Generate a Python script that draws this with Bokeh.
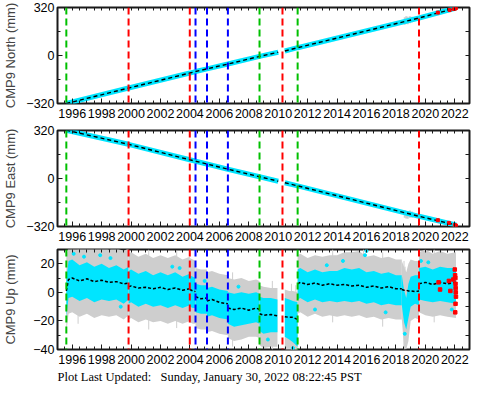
from bokeh.plotting import figure
from bokeh.models import ColumnDataSource, Span, FixedTicker, LinearAxis, Range1d, Title
from bokeh.layouts import column
from bokeh.embed import file_html
from bokeh.resources import INLINE

SANS = "Liberation Sans"
SERIF = "Liberation Serif"
CYAN = "#00e5ff"
GRAY = "#cecece"
NAN = float("nan")
COLORS = {"green": "#00c000", "red": "#ff0000", "blue": "#0000ff"}

# ---------------- data ----------------
event_years = [1995.60, 1999.83, 2003.99, 2004.38, 2005.16, 2006.58, 2008.73, 2010.29, 2011.32, 2019.57]
event_colors = ["green", "red", "red", "blue", "blue", "blue", "green", "red", "green", "red"]

year_labels = [1996, 1998, 2000, 2002, 2004, 2006, 2008, 2010, 2012, 2014, 2016, 2018, 2020, 2022]

north_t = [1995.60, 1999.83, 2003.99, 2004.38, 2005.16, 2006.58, 2008.73, 2010.00, NAN, 2010.45, 2011.32, 2019.57, 2022.08]
north_v = [-320, -217, -117, -107, -89, -57, -6, 22, NAN, 30, 52, 250, 316]
north_err_t = [2018.6, 2018.7, 2018.8, 2018.95, 2019.1]
north_err_lo = [205, 210, 208, 215, 222]
north_err_hi = [255, 262, 258, 262, 258]
north_red_t = [2020.85, 2021.65, 2021.95, 2022.05, 2022.08]
north_red_v = [286, 303, 310, 314, 318]

east_t = [1995.60, 1999.83, 2003.99, 2006.58, 2008.73, 2010.00, NAN, 2010.45, 2011.32, 2019.57, 2022.08]
east_v = [322, 228, 125, 62, 12, -18, NAN, -28, -49, -252, -310]
east_err_t = [2018.6, 2018.7, 2018.8, 2018.95, 2019.1]
east_err_lo = [-262, -266, -268, -262, -262]
east_err_hi = [-212, -216, -218, -214, -220]
east_red_t = [2020.85, 2021.6, 2022.0, 2022.08]
east_red_v = [-278, -296, -310, -314]

up_seg = [0] * 11 + [1] * 10 + [2] * 3 + [3] * 3 + [4] * 4 + [5] * 6 + [6] * 4 + [7] * 4 + [8] * 16 + [9] * 7 + [10] * 6
up_t = [1995.60, 1995.75, 1996.0, 1996.5, 1997.0, 1997.5, 1998.0, 1998.5, 1999.0, 1999.5, 1999.83,
        1999.83, 2000.0, 2000.5, 2001.0, 2001.5, 2002.0, 2002.5, 2003.0, 2003.5, 2003.99,
        2003.99, 2004.2, 2004.38,
        2004.38, 2004.75, 2005.16,
        2005.16, 2005.5, 2006.0, 2006.58,
        2006.58, 2007.0, 2007.5, 2008.0, 2008.5, 2008.73,
        2008.73, 2009.0, 2009.5, 2009.95,
        2010.45, 2010.75, 2011.0, 2011.32,
        2011.32, 2011.5, 2012.0, 2012.5, 2013.0, 2013.5, 2014.0, 2014.5, 2015.0, 2015.5, 2016.0, 2016.5, 2017.0, 2017.5, 2018.0, 2018.4,
        2018.4, 2018.55, 2018.7, 2018.85, 2019.0, 2019.3, 2019.57,
        2019.57, 2020.0, 2020.5, 2021.0, 2021.5, 2022.08]
up_model = [1, 9, 10, 8, 9.5, 7.5, 8.5, 7, 7.5, 6, 6.5,
            4, 4.5, 3, 3.5, 2.5, 3.5, 2, 3, 1.5, 2.5,
            2, 1, 0.5,
            -3, -4.5, -4,
            -6, -5, -7, -8,
            -11, -12, -11, -12.5, -11, -12,
            -15, -16, -15.5, -16.5,
            -17, -17.5, -17.5, -19,
            6, 7, 5.5, 6.5, 5, 6, 5, 5.5, 4.5, 5, 3.5, 4.5, 3, 4, 2.5, 2.5,
            2, 1.5, 1.5, 1, 1, 0.5, 1,
            6, 7, 5.5, 7, 6, 7]
up_cyan_hi = [10, 22, 23, 19, 21, 18, 20, 17, 19, 16, 18,
              15, 16, 13, 15, 12, 14, 12, 14, 11, 13,
              12, 11, 10,
              6, 5, 5,
              3, 4, 2, 1,
              0, -1, 0, -1, 0, -1,
              -3, -4, -4, -5,
              -4, -5, -6, -7,
              16, 17, 14, 16, 14, 15, 15, 17, 16, 17, 14, 15, 13, 14, 12, 12,
              12, 2, -4, 6, 11, 12, 12,
              17, 18, 16, 18, 17, 17]
up_cyan_lo = [-17, -4, -3, -6, -4, -7, -5, -6, -5, -8, -5,
              -8, -7, -10, -8, -10, -9, -11, -9, -11, -9,
              -10, -11, -11,
              -14, -15, -15,
              -17, -16, -18, -19,
              -22, -24, -23, -22, -21, -22,
              -27, -29, -28, -28,
              -31, -33, -35, -38,
              -5, -4, -7, -5, -7, -6, -7, -6, -7, -6, -8, -7, -9, -8, -9, -9,
              -9, -21, -26, -18, -10, -8, -9,
              -5, -6, -7, -6, -7, -8]
up_gray_hi = [25, 33, 34, 31, 33, 30, 32, 30, 31, 29, 31,
              27, 28, 25, 27, 24, 26, 24, 26, 23, 25,
              24, 23, 22,
              17, 16, 16,
              14, 15, 13, 12,
              10, 9, 10, 8, 9, 8,
              5, 4, 3, 3,
              2, 1, 1, 0,
              26, 27, 24, 26, 25, 26, 26, 28, 28, 29, 25, 26, 24, 25, 23, 23,
              22, 18, 14, 20, 23, 22, 22,
              28, 30, 27, 29, 27, 28]
up_gray_lo = [-28, -15, -14, -17, -15, -18, -16, -17, -16, -19, -16,
              -19, -18, -21, -19, -21, -20, -22, -20, -22, -20,
              -21, -22, -22,
              -25, -26, -26,
              -28, -27, -29, -30,
              -32, -34, -33, -31, -31, -32,
              -37, -39, -38, -38,
              -40, -42, -42, -42,
              -15, -14, -17, -15, -17, -16, -17, -16, -17, -16, -18, -17, -19, -18, -19, -19,
              -19, -38, -40, -34, -20, -18, -19,
              -14, -16, -17, -16, -17, -18]

up_out_t = [1996.1, 1996.8, 1997.9, 1998.6, 1999.3, 2002.8, 2003.3, 2005.0, 2007.3, 2009.3, 2011.0,
            2012.5, 2013.3, 2014.4, 2015.9, 2016.0, 2017.3, 2018.6, 2019.7, 2020.2, 2021.8]
up_out_v = [27, 25, 26, 24, -10, 18, 17, 8, 4, -33, -39,
            -12, 19, 22, 26, 29, -14, -29, 22, 21, -12]
up_whisk_t = [2010.9, 2011.2, 2018.55, 2018.62, 2015.8, 1996.4, 2009.6, 2001.2, 2003.1, 2006.9, 2013.7, 2017.1, 2020.6]
up_whisk_lo = [-40, -40, -40, -40, -5, -22, -40, -26, -25, -38, -21, -24, -21]
up_whisk_hi = [6, 5, 22, 18, 30, 30, 8, 30, 29, 14, 30, 28, 30]

up_red_t = [2020.9, 2021.0, 2021.6, 2021.7, 2021.9, 2022.0, 2022.02, 2022.04, 2022.05, 2022.06, 2022.07, 2022.08, 2022.05, 2022.03]
up_red_v = [7, 2, 8, 1, 9, 16, 12, 10, 6, 3, 0, -3, -8, -14]

footer = "Plot Last Updated:\u00a0\u00a0\u00a0Sunday, January 30, 2022 08:22:45 PST"

half_years = [1995 + 0.5 * i for i in range(57)]


def style_axis(ax, font_size="12.5px"):
    ax.axis_line_color = None
    ax.major_tick_in = 5
    ax.major_tick_out = 0
    ax.minor_tick_in = 3
    ax.minor_tick_out = 0
    ax.major_tick_line_color = "#1a1a1a"
    ax.minor_tick_line_color = "#1a1a1a"
    ax.major_label_text_font = SANS
    ax.major_label_text_font_size = font_size
    ax.major_label_text_color = "black"


def panel(height, yr, ymajor, yminor, overrides, ylabel, lab_standoff, top, bottom):
    p = figure(width=472, height=height, x_range=Range1d(1995, 2023), y_range=Range1d(*yr),
               output_backend="svg", toolbar_location=None,
               min_border_left=54, min_border_right=3, min_border_top=top, min_border_bottom=bottom,
               background_fill_color="white", border_fill_color="white")
    p.grid.visible = False
    p.outline_line_color = "#1a1a1a"
    p.outline_line_width = 2
    xa = p.xaxis[0]
    ya = p.yaxis[0]
    xa.ticker = FixedTicker(ticks=year_labels, minor_ticks=half_years)
    ya.ticker = FixedTicker(ticks=ymajor, minor_ticks=yminor)
    style_axis(xa)
    style_axis(ya)
    xa.major_label_standoff = 5
    ya.major_label_standoff = 3
    ya.major_label_overrides = overrides
    ya.axis_label = ylabel
    ya.axis_label_text_font = SANS
    ya.axis_label_text_font_size = "13px"
    ya.axis_label_text_font_style = "normal"
    ya.axis_label_standoff = lab_standoff
    # right and top borders: tick marks only (minor ticks, no labels)
    ra = LinearAxis(ticker=FixedTicker(ticks=[], minor_ticks=list(ymajor) + list(yminor)))
    style_axis(ra)
    ra.minor_tick_in = 4
    ra.major_label_standoff = 0
    ta = LinearAxis(ticker=FixedTicker(ticks=[], minor_ticks=half_years))
    style_axis(ta)
    ta.minor_tick_in = 3
    ta.major_label_standoff = 0
    p.add_layout(ra, "right")
    p.add_layout(ta, "above")
    for yv, c in zip(event_years, event_colors):
        p.add_layout(Span(location=yv, dimension="height", line_color=COLORS[c],
                          line_width=2, line_dash="7 4"))
    return p


# North
p1 = panel(123, (-320, 320), [-320, 0, 320], [-160, 160], {-320: "\u2212320"},
           "CMP9 North (mm)", 5, 7, 20)
p1.segment(x0=north_err_t, y0=north_err_lo, x1=north_err_t, y1=north_err_hi, color=GRAY, line_width=2)
p1.line(north_t, north_v, line_width=5, color=CYAN)
p1.line(north_t, north_v, line_width=1.4, color="black", line_dash="4 3")
p1.scatter(north_red_t, north_red_v, marker="square", size=3, color="red")

# East
p2 = panel(123, (-320, 320), [-320, 0, 320], [-160, 160], {-320: "\u2212320"},
           "CMP9 East (mm)", 5, 7, 20)
p2.segment(x0=east_err_t, y0=east_err_lo, x1=east_err_t, y1=east_err_hi, color=GRAY, line_width=2)
p2.line(east_t, east_v, line_width=5, color=CYAN)
p2.line(east_t, east_v, line_width=1.4, color="black", line_dash="4 3")
p2.scatter(east_red_t, east_red_v, marker="square", size=3, color="red")

# Up
p3 = panel(141, (-40, 30), [-40, -20, 0, 20], [-30, -10, 10, 30], {-20: "\u221220", -40: "\u221240"},
           "CMP9 Up (mm)", 12, 3, 38)
p3.segment(x0=up_whisk_t, y0=up_whisk_lo, x1=up_whisk_t, y1=up_whisk_hi, color=GRAY, line_width=1)
segs = sorted(set(up_seg))
for s in segs:
    idx = [i for i, g in enumerate(up_seg) if g == s]
    src = ColumnDataSource(dict(
        t=[up_t[i] for i in idx], m=[up_model[i] for i in idx],
        ch=[up_cyan_hi[i] for i in idx], cl=[up_cyan_lo[i] for i in idx],
        gh=[up_gray_hi[i] for i in idx], gl=[up_gray_lo[i] for i in idx]))
    p3.varea(x="t", y1="gl", y2="gh", source=src, fill_color=GRAY)
    p3.varea(x="t", y1="cl", y2="ch", source=src, fill_color=CYAN)
p3.scatter(up_out_t, up_out_v, size=3, color=CYAN)
for s in segs:
    idx = [i for i, g in enumerate(up_seg) if g == s]
    p3.line([up_t[i] for i in idx], [up_model[i] for i in idx], line_width=1.5,
            color="black", line_dash="3 2")
p3.scatter(up_red_t, up_red_v, marker="square", size=3.5, color="red")
p3.add_layout(Title(text=footer, align="left", text_font=SERIF, text_font_size="12.5px",
                    text_font_style="normal", text_color="black", standoff=2), "below")

layout = column(p1, p2, p3)
open("out.html", "w").write(file_html(layout, INLINE))
